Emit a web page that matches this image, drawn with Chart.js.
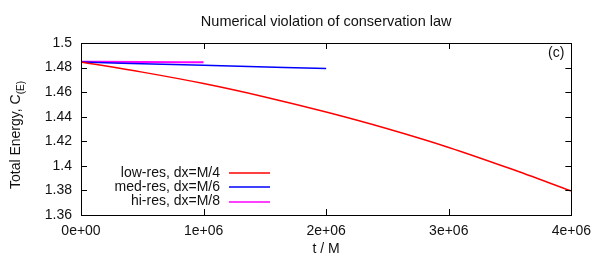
<!DOCTYPE html>
<html>
<head>
<meta charset="utf-8">
<script src="https://cdn.jsdelivr.net/npm/chart.js@4/dist/chart.umd.min.js"></script>
<style>
  html, body { margin:0; padding:0; background:#fff; }
  #wrap { width:599px; height:262px; }
</style>
</head>
<body>
<div id="wrap"><canvas id="energyChart"></canvas></div>
<script>
// --------- DADOS ----------
const lowResT = [0, 0.5e6, 1e6, 1.5e6, 2e6, 2.5e6, 3e6, 3.5e6, 4e6];
const lowResE = [1.4845, 1.4763, 1.4670, 1.4561, 1.4438, 1.4302, 1.4150, 1.3978, 1.3795];
const medResT = [0, 1e6, 2e6];
const medResE = [1.4845, 1.4818, 1.4792];
const hiResT = [0, 0.5e6, 1e6];
const hiResE = [1.4848, 1.4846, 1.4843];

const xTicks = [0, 1e6, 2e6, 3e6, 4e6];
const yTicks = [1.36, 1.38, 1.40, 1.42, 1.44, 1.46, 1.48, 1.50];

const seriesLabels = ["low-res, dx=M/4", "med-res, dx=M/6", "hi-res, dx=M/8"];
const seriesColors = ["#ff0000", "#0000ff", "#ff00ff"];

const chartTitle = "Numerical violation of conservation law";
const xTitle = "t / M";
const yTitleMain = "Total Energy, C";
const yTitleSub = "(E)";
const panelTag = "(c)";

const FONT = "'Liberation Sans', Arial, sans-serif";
const FS = 14;
const TXT = "#111";

function toPoints(xs, ys){
    return xs.map((x, i) => ({x: x, y: ys[i]}));
}

// --------- PLUGIN: moldura, ticks internos, textos, legenda ----------
const gnuplotStyle = {
    id: "gnuplotStyle",
    afterDraw(chart){
        const c = chart.ctx;
        const a = chart.chartArea;
        const xs = chart.scales.x, ys = chart.scales.y;
        const tl = 6;
        c.save();
        c.strokeStyle = "#000";
        c.lineWidth = 1;
        c.beginPath();
        xs.ticks.forEach(t => {
            const px = Math.round(xs.getPixelForValue(t.value)) + 0.5;
            c.moveTo(px, a.bottom); c.lineTo(px, a.bottom - tl);
            c.moveTo(px, a.top); c.lineTo(px, a.top + tl);
        });
        ys.ticks.forEach(t => {
            const py = Math.round(ys.getPixelForValue(t.value)) + 0.5;
            c.moveTo(a.left, py); c.lineTo(a.left + tl, py);
            c.moveTo(a.right, py); c.lineTo(a.right - tl, py);
        });
        c.stroke();
        c.strokeRect(Math.round(a.left) + 0.5, Math.round(a.top) + 0.5,
                     Math.round(a.right - a.left), Math.round(a.bottom - a.top));

        // textos
        const cx = (a.left + a.right) / 2;
        c.fillStyle = TXT;
        c.font = "14.5px " + FONT;
        c.textAlign = "center";
        c.textBaseline = "middle";
        c.fillText(chartTitle, cx, 22);
        c.font = FS + "px " + FONT;
        c.fillText(xTitle, cx, 249);
        c.textAlign = "right";
        c.fillText(panelTag, a.right - 7, 53);

        // titulo do eixo y com subscrito
        c.save();
        c.translate(16, (a.top + a.bottom) / 2 + 6);
        c.rotate(-Math.PI / 2);
        c.font = FS + "px " + FONT;
        const w1 = c.measureText(yTitleMain).width;
        c.font = "10px " + FONT;
        const w2 = c.measureText(yTitleSub).width;
        const start = -(w1 + w2) / 2;
        c.textAlign = "left";
        c.font = FS + "px " + FONT;
        c.fillText(yTitleMain, start, 0);
        c.font = "10px " + FONT;
        c.fillText(yTitleSub, start + w1, 5);
        c.restore();

        // legenda
        c.font = FS + "px " + FONT;
        c.textAlign = "right";
        seriesLabels.forEach((lab, i) => {
            const y = 173 + i * 14.3;
            c.fillStyle = TXT;
            c.fillText(lab, 220, y);
            c.strokeStyle = seriesColors[i];
            c.lineWidth = 1.5;
            c.beginPath();
            c.moveTo(229, Math.round(y));
            c.lineTo(270, Math.round(y));
            c.stroke();
        });
        c.restore();
    }
};

const ctx = document.getElementById("energyChart").getContext("2d");

let energyChart = new Chart(ctx, {
    type: "line",
    data: {
        datasets: [
            {label: seriesLabels[0], data: toPoints(lowResT, lowResE), borderColor: seriesColors[0], borderWidth: 1.5},
            {label: seriesLabels[1], data: toPoints(medResT, medResE), borderColor: seriesColors[1], borderWidth: 1.5},
            {label: seriesLabels[2], data: toPoints(hiResT, hiResE), borderColor: seriesColors[2], borderWidth: 2}
        ]
    },
    options: {
        responsive: true,
        maintainAspectRatio: false,
        animation: false,
        events: [],
        layout: {padding: {top: 43, right: 26, left: 0, bottom: 0}},
        elements: {point: {radius: 0}, line: {cubicInterpolationMode: "monotone", fill: false}},
        plugins: {legend: {display: false}, title: {display: false}, tooltip: {enabled: false}},
        scales: {
            x: {
                type: "linear",
                min: 0, max: 4e6,
                afterBuildTicks: s => { s.ticks = xTicks.map(v => ({value: v})); },
                afterFit: s => { s.height = 47; },
                grid: {display: false, drawTicks: false},
                border: {display: false},
                ticks: {
                    color: TXT, padding: 8,
                    font: {family: FONT, size: FS},
                    maxRotation: 0,
                    callback: v => v.toExponential(0).replace(/e([+-])(\d)$/, "e$10$2")
                }
            },
            y: {
                min: 1.36, max: 1.5,
                afterBuildTicks: s => { s.ticks = yTicks.map(v => ({value: v})); },
                afterFit: s => { s.width = 81; },
                grid: {display: false, drawTicks: false},
                border: {display: false},
                ticks: {
                    color: TXT, padding: 9,
                    font: {family: FONT, size: FS},
                    callback: v => String(Number(v.toFixed(2)))
                }
            }
        }
    },
    plugins: [gnuplotStyle]
});
</script>
</body>
</html>
